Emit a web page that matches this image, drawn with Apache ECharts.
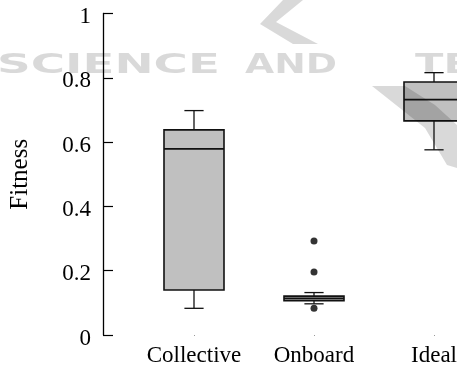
<!DOCTYPE html>
<html>
<head>
<meta charset="utf-8">
<style>
  html, body { margin: 0; padding: 0; background: #fff; overflow: hidden; }
  #chart { width: 494px; height: 369px; }
</style>
<script src="https://cdn.jsdelivr.net/npm/echarts@6/dist/echarts.min.js"></script>
</head>
<body>
<div id="chart"></div>
<script>
const categories = ['Collective', 'Onboard', 'Ideal'];
// min, q1, median, q3, max per category
const collectiveStats = [0.083, 0.140, 0.579, 0.638, 0.698];
const onboardStats = [0.097, 0.107, 0.114, 0.121, 0.132];
const idealStats = [0.576, 0.666, 0.732, 0.787, 0.816];
const outliers = [[1, 0.292], [1, 0.196], [1, 0.083]];
const yRange = [0, 1];
const yStep = 0.2;

const boxData = [collectiveStats, onboardStats, idealStats].map((s, i) => [i].concat(s));
const serif = 'Liberation Serif, Times New Roman, serif';
const wmColor = 'rgba(0,0,0,0.15)';

// box + whiskers with short caps, like the original plot
function renderBox(params, api) {
  const i = api.value(0);
  const x = api.coord([i, 0])[0];
  const yMin = api.coord([i, api.value(1)])[1];
  const yQ1 = api.coord([i, api.value(2)])[1];
  const yMed = api.coord([i, api.value(3)])[1];
  const yQ3 = api.coord([i, api.value(4)])[1];
  const yMax = api.coord([i, api.value(5)])[1];
  const band = api.size([1, 0])[0];
  const half = band * 0.25;
  const cap = band * 0.08;
  const thin = { stroke: '#111', lineWidth: 1.3 };
  const thick = { stroke: '#111', lineWidth: 1.6 };
  return {
    type: 'group',
    children: [
      { type: 'line', shape: { x1: x, y1: yMax, x2: x, y2: yQ3 }, style: thin },
      { type: 'line', shape: { x1: x, y1: yQ1, x2: x, y2: yMin }, style: thin },
      { type: 'line', shape: { x1: x - cap, y1: yMax, x2: x + cap, y2: yMax }, style: thin },
      { type: 'line', shape: { x1: x - cap, y1: yMin, x2: x + cap, y2: yMin }, style: thin },
      { type: 'rect', shape: { x: x - half, y: yQ3, width: half * 2, height: yQ1 - yQ3 },
        style: { fill: '#c0c0c0', stroke: '#111', lineWidth: 1.6 } },
      { type: 'line', shape: { x1: x - half, y1: yMed, x2: x + half, y2: yMed }, style: thick }
    ]
  };
}

const chart = echarts.init(document.getElementById('chart'));
chart.setOption({
  animation: false,
  backgroundColor: '#fff',
  grid: { left: 131, right: 0, top: 13.5, bottom: 34 },
  xAxis: {
    type: 'category',
    data: categories,
    axisLine: { show: false },
    axisTick: { show: true, alignWithLabel: true, length: 1, lineStyle: { color: '#999' } },
    axisLabel: { color: '#000', fontFamily: serif, fontSize: 23, margin: 9, interval: 0 },
    splitLine: { show: false }
  },
  yAxis: {
    type: 'value',
    min: yRange[0],
    max: yRange[1],
    interval: yStep,
    offset: 31,
    name: 'Fitness',
    nameLocation: 'middle',
    nameRotate: 90,
    nameGap: 70,
    nameTextStyle: { color: '#000', fontFamily: serif, fontSize: 25 },
    axisLine: { show: true, lineStyle: { color: '#000', width: 1.3 } },
    axisTick: { show: true, inside: true, length: 10, lineStyle: { color: '#000', width: 1.2 } },
    axisLabel: {
      margin: 12,
      formatter: v => '{v|' + v + '}',
      rich: { v: { color: '#000', fontFamily: serif, fontSize: 23, padding: [7, 0, 0, 0] } }
    },
    splitLine: { show: false }
  },
  series: [
    {
      type: 'custom',
      renderItem: renderBox,
      data: boxData,
      encode: { x: 0, y: [1, 2, 3, 4, 5] },
      clip: false
    },
    {
      type: 'scatter',
      data: outliers,
      symbolSize: 7,
      itemStyle: { color: '#000' }
    }
  ],
  graphic: [
    { type: 'text', z: 100, left: -3, top: 53, scaleX: 1.8,
      style: { text: 'SCIENCE', fill: wmColor, font: 'bold 26px DejaVu Sans' } },
    { type: 'text', z: 100, left: 245, top: 53, scaleX: 1.45,
      style: { text: 'AND', fill: wmColor, font: 'bold 26px DejaVu Sans' } },
    { type: 'text', z: 100, left: 415, top: 53, scaleX: 1.6,
      style: { text: 'TEC', fill: wmColor, font: 'bold 26px DejaVu Sans' } },
    { type: 'polygon', z: 100,
      shape: { points: [[283, 0], [303, 0], [276, 22], [318, 44], [293, 44], [260, 24]] },
      style: { fill: wmColor } },
    { type: 'polygon', z: 100,
      shape: { points: [[372, 86], [405, 86], [435, 105], [457, 125], [457, 168], [447, 165], [425, 128]] },
      style: { fill: wmColor } }
  ]
});
</script>
</body>
</html>
